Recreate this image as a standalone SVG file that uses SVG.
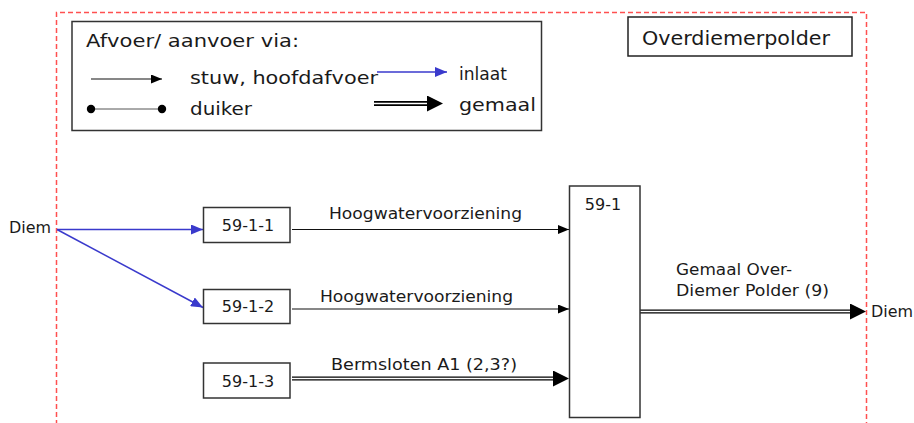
<svg xmlns="http://www.w3.org/2000/svg" width="914" height="423" viewBox="0 0 914 423">
<style>
text{font-family:"DejaVu Sans","Liberation Sans",sans-serif;fill:#1a1a1a}
.lg{font-size:18px}
.t{font-size:16px}
.box{fill:#fff;stroke:#333;stroke-width:1.5}
.blk{stroke:#111;stroke-width:1.2;fill:none}
.blu{stroke:#3a3acc;stroke-width:1.5;fill:none}
.dbl{stroke:#000;stroke-width:4.2;fill:none}
.dblw{stroke:#fff;stroke-width:1.3;fill:none}
.border{fill:none;stroke:#ff5050;stroke-width:1.5;stroke-dasharray:5 3}
</style>
<defs>
<marker id="ab" markerUnits="userSpaceOnUse" markerWidth="11" markerHeight="9" refX="11" refY="4.5" orient="auto"><path d="M0,0 L11,4.5 L0,9 z" fill="#000"/></marker>
<marker id="au" markerUnits="userSpaceOnUse" markerWidth="12" markerHeight="10" refX="12" refY="5" orient="auto"><path d="M0,0 L12,5 L0,10 z" fill="#3a3acc"/></marker>
<marker id="ag" markerUnits="userSpaceOnUse" markerWidth="16" markerHeight="16" refX="0" refY="8" orient="auto"><path d="M0,0 L16,8 L0,16 z" fill="#000"/></marker>
<marker id="dot" markerUnits="userSpaceOnUse" markerWidth="10" markerHeight="10" refX="5" refY="5"><circle cx="5" cy="5" r="4.2" fill="#000"/></marker>
</defs>
<path class="border" d="M56.5,425 V12.5 H866.5 V425"/>
<g id="legend">
<rect x="72" y="21.5" width="469.5" height="109" fill="#fff" stroke="#333" stroke-width="1.5"/>
<text class="lg" x="86" y="47" textLength="213" lengthAdjust="spacingAndGlyphs">Afvoer/ aanvoer via:</text>
<line class="blk" x1="91" y1="79" x2="162" y2="79" marker-end="url(#ab)"/>
<text class="lg" x="190" y="84" textLength="188" lengthAdjust="spacingAndGlyphs">stuw, hoofdafvoer</text>
<line x1="91" y1="109" x2="162" y2="109" stroke="#555" stroke-width="1" marker-start="url(#dot)" marker-end="url(#dot)"/>
<text class="lg" x="190" y="115" textLength="62" lengthAdjust="spacingAndGlyphs">duiker</text>
<line class="blu" x1="377" y1="72" x2="447" y2="72" marker-end="url(#au)"/>
<text class="lg" x="459" y="80" textLength="48" lengthAdjust="spacingAndGlyphs">inlaat</text>
<line x1="374" y1="103.5" x2="427" y2="103.5" stroke="#000" stroke-width="5" marker-end="url(#ag)"/>
<line x1="374" y1="103.5" x2="427" y2="103.5" stroke="#fff" stroke-width="1.5"/>
<text class="lg" x="459" y="111" textLength="77" lengthAdjust="spacingAndGlyphs">gemaal</text>
</g>
<g id="title">
<rect x="628" y="17" width="224" height="39" fill="#fff" stroke="#222" stroke-width="1.5"/>
<text x="642" y="45" font-size="20" textLength="188" lengthAdjust="spacingAndGlyphs">Overdiemerpolder</text>
</g>
<g id="connectors">
<line class="blu" x1="57" y1="229.5" x2="203" y2="229.5" marker-end="url(#au)"/>
<line class="blu" x1="57" y1="229.5" x2="203" y2="307.5" marker-end="url(#au)"/>
<line class="blk" x1="292" y1="229.5" x2="569" y2="229.5" marker-end="url(#ab)"/>
<text class="t" x="329" y="219" textLength="193" lengthAdjust="spacingAndGlyphs">Hoogwatervoorziening</text>
<line class="blk" x1="292" y1="309" x2="569" y2="309" marker-end="url(#ab)"/>
<text class="t" x="320" y="302" textLength="193" lengthAdjust="spacingAndGlyphs">Hoogwatervoorziening</text>
<line class="dbl" x1="292" y1="378.5" x2="553" y2="378.5" marker-end="url(#ag)"/>
<line class="dblw" x1="292" y1="378.5" x2="553" y2="378.5"/>
<text class="t" x="331" y="370" textLength="186" lengthAdjust="spacingAndGlyphs">Bermsloten A1 (2,3?)</text>
<line class="dbl" x1="640" y1="311.5" x2="850" y2="311.5" marker-end="url(#ag)"/>
<line class="dblw" x1="640" y1="311.5" x2="850" y2="311.5"/>
<text class="t" x="676" y="275" textLength="116" lengthAdjust="spacingAndGlyphs">Gemaal Over-</text>
<text class="t" x="676" y="296" textLength="153" lengthAdjust="spacingAndGlyphs">Diemer Polder (9)</text>
</g>
<g id="diem-in"><text class="t" x="9" y="233" textLength="42" lengthAdjust="spacingAndGlyphs">Diem</text></g>
<g id="diem-out"><text class="t" x="871" y="317" textLength="42" lengthAdjust="spacingAndGlyphs">Diem</text></g>
<g id="n59-1-1"><rect class="box" x="203.5" y="207.5" width="86.5" height="35"/><text class="t" x="248" y="231" text-anchor="middle">59-1-1</text></g>
<g id="n59-1-2"><rect class="box" x="203.5" y="289.5" width="86.5" height="34"/><text class="t" x="248" y="312" text-anchor="middle">59-1-2</text></g>
<g id="n59-1-3"><rect class="box" x="203.5" y="363" width="86.5" height="35"/><text class="t" x="248" y="387" text-anchor="middle">59-1-3</text></g>
<g id="n59-1"><rect class="box" x="569.5" y="186" width="70.5" height="231.5"/><text class="t" x="603" y="210" text-anchor="middle">59-1</text></g>
</svg>
